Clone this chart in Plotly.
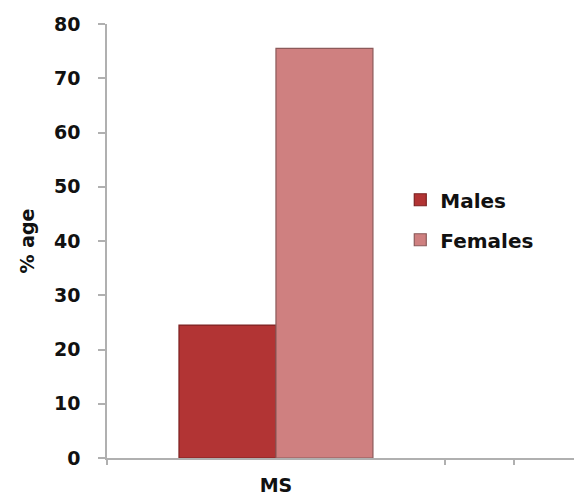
import plotly.graph_objects as go

# Data
categories = ["MS"]
series_names = ["Males", "Females"]
males = [24.5]
females = [75.5]
y_ticks = [0, 10, 20, 30, 40, 50, 60, 70, 80]

# numeric position of the single category
cat_pos = [0]

fig = go.Figure()
fig.add_trace(go.Bar(
    x=cat_pos, y=males, name=series_names[0], legendgroup="m",
    marker=dict(color="#b23434", line=dict(color="#7c2222", width=1.2)),
))
fig.add_trace(go.Bar(
    x=cat_pos, y=females, name=series_names[1], legendgroup="f",
    marker=dict(color="#cf8080", line=dict(color="#8c5a5a", width=1.2)),
))

# invisible trace carrying the axis tick marks at category boundaries
fig.add_trace(go.Scatter(x=[-0.5], y=[0], xaxis="x2", mode="markers",
                         marker=dict(opacity=0), showlegend=False, hoverinfo="skip"))

tick_font = dict(family="DejaVu Sans", size=19, color="#111111", weight="bold")

fig.update_layout(
    width=574, height=496,
    margin=dict(l=107, r=0, t=24, b=38),
    paper_bgcolor="white", plot_bgcolor="white",
    barmode="group", bargap=0.426, bargroupgap=0,
    showlegend=True,
    legend=dict(x=0.628, y=0.64, xanchor="left", yanchor="top",
                font=dict(family="DejaVu Sans", size=20, color="#111111", weight="bold"),
                tracegroupgap=11, bgcolor="rgba(0,0,0,0)"),
    xaxis=dict(range=[-0.5, 0.882], tickvals=cat_pos, ticktext=categories,
               ticks="", showgrid=False, zeroline=False,
               showline=True, linecolor="#b0b0b0", linewidth=1.5,
               tickfont=tick_font, ticklabelstandoff=9),
    xaxis2=dict(range=[-0.5, 0.882], overlaying="x", side="bottom",
                tickvals=[-0.5, 0.5, 0.704], ticktext=["", "", ""],
                ticks="outside", ticklen=6, tickcolor="#b0b0b0", tickwidth=1.5,
                showgrid=False, zeroline=False, showline=False),
    yaxis=dict(range=[0, 80], tickvals=y_ticks, ticks="outside", ticklen=7,
               tickcolor="#b0b0b0", tickwidth=1.5,
               showgrid=False, zeroline=False, showline=True,
               linecolor="#b0b0b0", linewidth=1.5,
               tickfont=tick_font, ticklabelstandoff=14,
               title=dict(text="% age", standoff=14,
                          font=dict(family="DejaVu Sans", size=19, color="#111111", weight="bold"))),
)

fig.write_html("out.html")
